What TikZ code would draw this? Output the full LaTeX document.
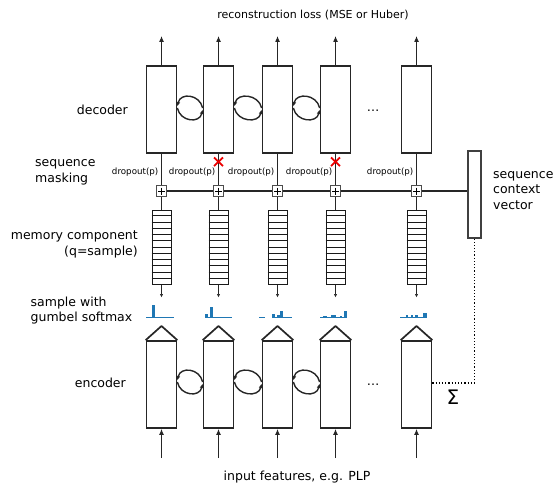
\documentclass[tikz,border=0pt]{standalone}
\usepackage{fontspec}
\setmainfont{DejaVu Sans}
\usetikzlibrary{calc,arrows.meta}
\definecolor{mplblue}{RGB}{31,119,180}
\definecolor{xred}{RGB}{235,0,0}
\begin{document}
\begin{tikzpicture}[x=1pt,y=-1pt,
 box/.style={draw=black!85, line width=1.7pt, minimum width=30pt, minimum height=87pt, inner sep=0pt},
 mem/.style={draw=black!90, line width=1pt, minimum width=19pt, minimum height=74pt, inner sep=0pt},
 plusbox/.style={draw=black!70, line width=1.1pt, minimum size=10.5pt, inner sep=0pt},
 conn/.style={line width=1.1pt, draw=black!85},
 arr/.style={conn, -{Latex[length=6pt,width=5pt]}},
 smallarr/.style={conn, -{Latex[length=3.5pt,width=3.5pt]}},
 loopar/.style={line width=1.4pt, draw=black!85, -{Latex[length=4.5pt,width=4pt]}},
 lbl/.style={font=\fontsize{12.5}{15.5}\selectfont, inner sep=0pt},
 drop/.style={font=\fontsize{8.7}{10}\selectfont, inner sep=0pt, anchor=east},
 hist/.style={fill=mplblue},
 histbase/.style={draw=mplblue, line width=1.2pt},
]
\useasboundingbox (0,0) rectangle (556,484);

\foreach \i/\x in {1/161.5,2/218.5,3/277.5,4/335.5,5/416.5}{
  % decoder
  \node[box] (d\i) at (\x,109.5) {};
  \coordinate (o\i) at (\x,36);
  \draw[arr] (d\i.north) -- (o\i);
  % encoder
  \node[box] (e\i) at (\x,384.5) {};
  \coordinate (t\i) at (\x,326);
  \draw[line width=1.7pt, draw=black!85, line join=round] (e\i.north west) -- (t\i) -- (e\i.north east);
  \coordinate (in\i) at (\x,458);
  \draw[arr] (in\i) -- (e\i.south);
  % masking
  \node[plusbox] (p\i) at (\x,191) {};
  \draw[line width=0.9pt] ($(p\i.center)+(-3.5,0)$) -- ($(p\i.center)+(3.5,0)$);
  \draw[line width=0.9pt] ($(p\i.center)+(0,-3.5)$) -- ($(p\i.center)+(0,3.5)$);
  \node[drop] (dl\i) at (\x-3,172) {dropout(p)};
  % memory
  \node[mem] (m\i) at (\x,247) {};
  \foreach \k in {1,...,11}{
    \draw[line width=0.8pt, draw=black!90] ($(m\i.north west)!\k/12!(m\i.south west)$) -- ($(m\i.north east)!\k/12!(m\i.south east)$);
  }
  \draw[conn] (d\i.south) -- (p\i.north);
  \draw[conn] (p\i.south) -- (m\i.north);
  \coordinate (s\i) at (\x,297.5);
  \draw[smallarr] (m\i.south) -- (s\i);
}

% recurrent loops
\foreach \i/\j in {1/2,2/3,3/4}{
  \draw[loopar] ($(d\j.west)+(0,-1.5)$) .. controls +(-3,-14) and +(3,-14) .. ($(d\i.east)+(0,-3)$);
  \draw[loopar] ($(d\i.east)+(0,-1.5)$) .. controls +(3,14) and +(-3,14) .. ($(d\j.west)+(0,0)$);
  \draw[loopar] ($(e\j.west)+(0,-2.5)$) .. controls +(-3,-14) and +(3,-14) .. ($(e\i.east)+(0,-4)$);
  \draw[loopar] ($(e\i.east)+(0,-2.5)$) .. controls +(3,14) and +(-3,14) .. ($(e\j.west)+(0,-1)$);
}

% masking line and context vector
\node[draw=black!75, line width=1.1pt, minimum width=13pt, minimum height=87pt, inner sep=0pt] (cv) at (474.5,194.5) {};
\draw[conn] (p1.east) -- (p2.west);
\draw[conn] (p2.east) -- (p3.west);
\draw[conn] (p3.east) -- (p4.west);
\draw[conn] (p4.east) -- (p5.west);
\draw[conn] (p5.east) -- (p5.east -| cv.west);

% dropped units
\foreach \x in {218.5,335.5}{
  \draw[xred, line width=1.8pt] (\x-4.5,157.5) -- (\x+4.5,166);
  \draw[xred, line width=1.8pt] (\x-4.5,166) -- (\x+4.5,157.5);
}

% summation path
\coordinate (corner) at (474.5,383);
\draw[dotted, line width=1.2pt] (e5.east |- corner) -- (corner) -- (cv.south);
\node[inner sep=0pt] (sig) at (453,397) {\fontsize{20}{20}\selectfont Σ};

% ellipses
\node[lbl, anchor=base] (dots1) at (373,112) {…};
\node[lbl, anchor=base] (dots2) at (373,385) {…};

% histograms
\draw[histbase] (146,317.5) -- (174,317.5);
\draw[histbase] (205,317.5) -- (232,317.5);
\draw[histbase] (259,317.5) -- (265,317.5);
\draw[histbase] (272,317.5) -- (292,317.5);
\draw[histbase] (320,317.5) -- (347,317.5);
\draw[histbase] (400,317.5) -- (427,317.5);
\fill[hist] (152,318) rectangle (155,305);
\fill[hist] (205,318) rectangle (208,313.5);
\fill[hist] (210,318) rectangle (213,307);
\fill[hist] (272,318) rectangle (275,313.5);
\fill[hist] (277,318) rectangle (279.5,314.5);
\fill[hist] (280,318) rectangle (283,310.5);
\fill[hist] (323,318) rectangle (327,315.5);
\fill[hist] (331,318) rectangle (336,314.5);
\fill[hist] (340,318) rectangle (342,316);
\fill[hist] (344,318) rectangle (347,310.5);
\fill[hist] (406,318) rectangle (408,315);
\fill[hist] (410.5,318) rectangle (413,315);
\fill[hist] (415,318) rectangle (417.5,314.5);
\fill[hist] (423,318) rectangle (427,312.5);

% labels
\node[font=\fontsize{11}{13}\selectfont, inner sep=0pt] (top) at (313,15) {reconstruction loss (MSE or Huber)};
\node[lbl] (bot) at (297,477) {input features, e.g. PLP};
\node[lbl, anchor=east] (ldec) at (128,110) {decoder};
\node[lbl, anchor=east] (lenc) at (126,383) {encoder};
\node[lbl, anchor=west, align=left] (lmask) at (35,172.5) {sequence\\masking};
\node[lbl, anchor=east, align=right] (lmem) at (138,244.5) {memory component\\(q=sample)};
\node[lbl, anchor=west, align=left] (lsamp) at (30.5,310.5) {sample with\\gumbel softmax};
\node[lbl, anchor=west, align=left] (lcv) at (493,190.5) {sequence\\context\\vector};
\end{tikzpicture}
\end{document}
